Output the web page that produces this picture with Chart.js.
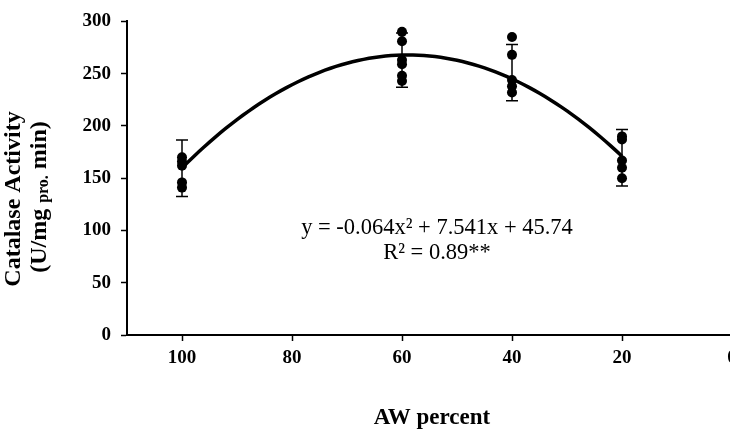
<!DOCTYPE html>
<html>
<head>
<meta charset="utf-8">
<script src="https://cdn.jsdelivr.net/npm/chart.js@4.4.1/dist/chart.umd.min.js"></script>
<style>
  html, body { margin: 0; padding: 0; background: #fff; overflow: hidden; }
  canvas { display: block; }
</style>
</head>
<body>
<canvas id="chart" width="745" height="431"></canvas>
<script>
// AW percent levels (x)
const awLevels = [100, 60, 40, 20];
const obs100 = [170, 166, 162, 146, 141];
const obs60 = [290, 281, 263, 259, 248, 243];
const obs40 = [285, 268, 244, 238, 232];
const obs20 = [190, 187, 167, 160, 150];
// error bars: centre and half length
const barMean = [159.5, 263, 251, 169.5];
const barErr = [27, 26, 27, 27];
// trendline printed on the chart: y = -0.064x² + 7.541x + 45.74
const trendCoef = [-0.064, 7.541, 45.74];
const trendRange = [20, 100];
// axis ticks
const xTicks = [100, 80, 60, 40, 20, 0];
const yTicks = [0, 50, 100, 150, 200, 250, 300];

const serif = "'Liberation Serif', 'Times New Roman', serif";

const groups = [obs100, obs60, obs40, obs20];
const points = [];
groups.forEach((g, i) => g.forEach(v => points.push({ x: awLevels[i], y: v })));

const trend = [];
for (let x = trendRange[0]; x <= trendRange[1]; x++) {
    trend.push({ x: x, y: trendCoef[0] * x * x + trendCoef[1] * x + trendCoef[2] });
}

// error bars drawn under the points
const errorBars = {
    id: 'errorBars',
    beforeDatasetsDraw(chart) {
        const ctx = chart.ctx, xs = chart.scales.x, ys = chart.scales.y;
        ctx.save();
        ctx.strokeStyle = '#000';
        ctx.lineWidth = 1.5;
        awLevels.forEach((lvl, i) => {
            const px = xs.getPixelForValue(lvl);
            const top = ys.getPixelForValue(barMean[i] + barErr[i]);
            const bot = ys.getPixelForValue(barMean[i] - barErr[i]);
            ctx.beginPath();
            ctx.moveTo(px, top); ctx.lineTo(px, bot);
            ctx.moveTo(px - 6, top); ctx.lineTo(px + 6, top);
            ctx.moveTo(px - 6, bot); ctx.lineTo(px + 6, bot);
            ctx.stroke();
        });
        ctx.restore();
    }
};

// axis titles and the equation
const labels = {
    id: 'labels',
    afterDraw(chart) {
        const ctx = chart.ctx;
        ctx.save();
        ctx.fillStyle = '#000';
        ctx.textAlign = 'center';
        ctx.textBaseline = 'middle';

        ctx.font = '22.5px ' + serif;
        ctx.fillText('y = -0.064x² + 7.541x + 45.74', 437, 228);
        ctx.fillText('R² = 0.89**', 437, 253);

        ctx.font = 'bold 23px ' + serif;
        ctx.fillText('AW percent', 432, 418);

        // y title, rotated
        ctx.font = 'bold 24px ' + serif;
        ctx.save();
        ctx.translate(14, 199);
        ctx.rotate(-Math.PI / 2);
        ctx.fillText('Catalase Activity', 0, 0);
        ctx.restore();

        ctx.save();
        ctx.translate(40, 197);
        ctx.rotate(-Math.PI / 2);
        ctx.textAlign = 'left';
        const big = 'bold 24px ' + serif, small = 'bold 16px ' + serif;
        const parts = [['(U/mg ', big, 0], ['pro.', small, 4], [' min)', big, 0]];
        let total = 0;
        parts.forEach(p => { ctx.font = p[1]; total += ctx.measureText(p[0]).width; });
        let x = -total / 2;
        parts.forEach(p => {
            ctx.font = p[1];
            ctx.fillText(p[0], x, p[2]);
            x += ctx.measureText(p[0]).width;
        });
        ctx.restore();

        ctx.restore();
    }
};

const tickFont = { family: serif, size: 19, weight: 'bold' };

new Chart(document.getElementById('chart'), {
    type: 'scatter',
    data: {
        datasets: [
            {
                data: trend,
                type: 'line',
                showLine: true,
                borderColor: '#000',
                borderWidth: 3.5,
                pointRadius: 0,
                tension: 0,
                order: 2
            },
            {
                data: points,
                backgroundColor: '#000',
                borderColor: '#000',
                borderWidth: 0,
                pointRadius: 5,
                order: 1
            }
        ]
    },
    options: {
        responsive: false,
        animation: false,
        layout: { padding: { left: 0, top: 20, right: 13, bottom: 0 } },
        plugins: { legend: { display: false }, tooltip: { enabled: false } },
        scales: {
            x: {
                type: 'linear',
                reverse: true,
                min: 0,
                max: 110,
                afterBuildTicks: s => { s.ticks = xTicks.map(v => ({ value: v })); },
                afterFit: s => { s.height = 96; },
                grid: { drawOnChartArea: false, tickLength: 6, tickColor: '#000', tickWidth: 1.5 },
                border: { color: '#000', width: 2 },
                ticks: { color: '#000', font: tickFont, padding: 6, maxRotation: 0 }
            },
            y: {
                min: 0,
                max: 300,
                afterBuildTicks: s => { s.ticks = yTicks.map(v => ({ value: v })); },
                afterFit: s => { s.width = 127; },
                grid: { drawOnChartArea: false, tickLength: 6, tickColor: '#000', tickWidth: 1.5 },
                border: { color: '#000', width: 2 },
                ticks: { color: '#000', font: tickFont, padding: 10 }
            }
        }
    },
    plugins: [errorBars, labels]
});
</script>
</body>
</html>
